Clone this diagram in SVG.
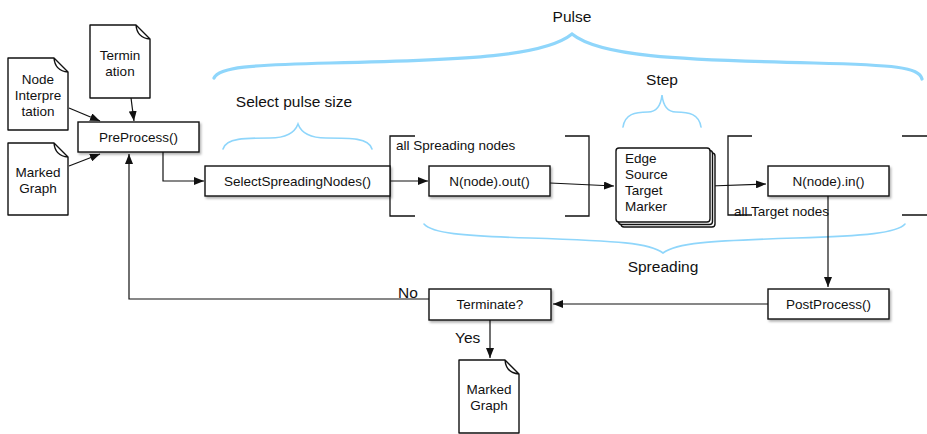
<svg xmlns="http://www.w3.org/2000/svg" width="927" height="434" viewBox="0 0 927 434">
<defs>
<style>
text{font-family:"Liberation Sans",Arial,sans-serif;font-size:13.5px;fill:#111}
.c{text-anchor:middle}
.big{font-size:15.5px}
.box{fill:#fff;stroke:#111;stroke-width:1.4}
.doc{fill:#fff;stroke:#111;stroke-width:1.4;stroke-linejoin:round}
.ln{fill:none;stroke:#111;stroke-width:1.2}
.br{fill:none;stroke:#111;stroke-width:1.3}
.brace{fill:none;stroke:#8fd6fb;stroke-width:1.6;stroke-linecap:round}
.brace2{fill:none;stroke:#8fd6fb;stroke-width:3.2;stroke-linecap:round}
</style>
<marker id="ah" viewBox="0 0 10 8" refX="10" refY="4" markerWidth="10" markerHeight="8" markerUnits="userSpaceOnUse" orient="auto">
<path d="M0,0 L10,4 L0,8 Z" fill="#111"/>
</marker>
<filter id="sh" x="-10%" y="-20%" width="130%" height="160%">
<feDropShadow dx="1.5" dy="2" stdDeviation="1.2" flood-color="#000" flood-opacity="0.3"/>
</filter>
</defs>

<g id="braces">
<path class="brace2" d="M214,78 C219,67 250,65 330,63 C470,60 545,56 572,34 C599,56 674,60 814,63 C894,65 919,67 922,79"/>
<text class="c big" x="572" y="22">Pulse</text>
<path class="brace" d="M223,149 C226,138 245,138 270,138 C288,138 295,132 298,124 C301,132 308,138 326,138 C351,138 369,138 372,149"/>
<text class="c big" x="294" y="107">Select pulse size</text>
<path class="brace" d="M623,127 C625,114 635,112 648,112 C657,112 661,104 662,95 C663,104 667,112 676,112 C689,112 699,114 701,127"/>
<text class="c big" x="662" y="85">Step</text>
<path class="brace" d="M424,224 C432,233 460,236 530,238 C620,241 650,243 663,253 C676,243 706,241 796,238 C866,236 897,233 905,224"/>
<text class="c big" x="663" y="272">Spreading</text>
</g>

<g id="brackets">
<path class="br" d="M415,136 H390 V216 H415"/>
<path class="br" d="M565,136 H589 V216 H565"/>
<text x="396" y="150">all Spreading nodes</text>
<path class="br" d="M752,136 H728 V215 H752"/>
<path class="br" d="M902,136 H927 M902,215 H927"/>
<text x="734" y="216">all Target nodes</text>
</g>

<g id="connectors">
<path class="ln" d="M69,108 L100,121" marker-end="url(#ah)"/>
<path class="ln" d="M69,166 L100,154" marker-end="url(#ah)"/>
<path class="ln" d="M131,98 L134,121" marker-end="url(#ah)"/>
<path class="ln" d="M163,152 V181 H204" marker-end="url(#ah)"/>
<path class="ln" d="M390,181 H428" marker-end="url(#ah)"/>
<path class="ln" d="M550,183 L614,186" marker-end="url(#ah)"/>
<path class="ln" d="M710,186 L766,184" marker-end="url(#ah)"/>
<path class="ln" d="M828,196 V287" marker-end="url(#ah)"/>
<path class="ln" d="M768,304 H553" marker-end="url(#ah)"/>
<path class="ln" d="M429,299 H129 V154" marker-end="url(#ah)"/>
<path class="ln" d="M490,320 V358" marker-end="url(#ah)"/>
<text class="big" x="398" y="298">No</text>
<text class="big" x="455" y="343">Yes</text>
</g>

<g id="termination">
<path class="doc" d="M90,25 H136 L150,39 V98 H90 Z M136,25 Q137,38 150,39"/>
<text class="c" x="120" y="60">Termin</text>
<text class="c" x="120" y="76">ation</text>
</g>
<g id="node-interpretation">
<path class="doc" d="M8,58 H54 L68,72 V130 H8 Z M54,58 Q55,71 68,72"/>
<text class="c" x="38" y="84">Node</text>
<text class="c" x="38" y="100">Interpre</text>
<text class="c" x="38" y="116">tation</text>
</g>
<g id="marked-graph-in">
<path class="doc" d="M8,143 H54 L68,157 V215 H8 Z M54,143 Q55,156 68,157"/>
<text class="c" x="38" y="177">Marked</text>
<text class="c" x="38" y="193">Graph</text>
</g>
<g id="preprocess">
<rect class="box" x="78" y="122" width="121" height="30" filter="url(#sh)"/>
<text class="c" x="138.5" y="142">PreProcess()</text>
</g>
<g id="select-spreading">
<rect class="box" x="205" y="166" width="185" height="30" filter="url(#sh)"/>
<text class="c" x="297.5" y="186">SelectSpreadingNodes()</text>
</g>
<g id="n-out">
<rect class="box" x="429" y="166" width="121" height="30" filter="url(#sh)"/>
<text class="c" x="489.5" y="186">N(node).out()</text>
</g>
<g id="step">
<rect class="box" x="621" y="153" width="94" height="74" rx="3"/>
<rect class="box" x="618.5" y="150.5" width="94" height="74" rx="3"/>
<rect class="box" x="616" y="148" width="94" height="74" rx="3"/>
<text x="625" y="163">Edge</text>
<text x="625" y="179">Source</text>
<text x="625" y="195">Target</text>
<text x="625" y="211">Marker</text>
</g>
<g id="n-in">
<rect class="box" x="768" y="166" width="121" height="30" filter="url(#sh)"/>
<text class="c" x="828.5" y="186">N(node).in()</text>
</g>
<g id="postprocess">
<rect class="box" x="768" y="289" width="121" height="30" filter="url(#sh)"/>
<text class="c" x="828.5" y="309">PostProcess()</text>
</g>
<g id="terminate">
<rect class="box" x="429" y="289" width="122" height="31" filter="url(#sh)"/>
<text class="c" x="490" y="309">Terminate?</text>
</g>
<g id="marked-graph-out">
<path class="doc" d="M459,360 H505 L519,374 V433 H459 Z M505,360 Q506,373 519,374"/>
<text class="c" x="489" y="394">Marked</text>
<text class="c" x="489" y="410">Graph</text>
</g>
</svg>
